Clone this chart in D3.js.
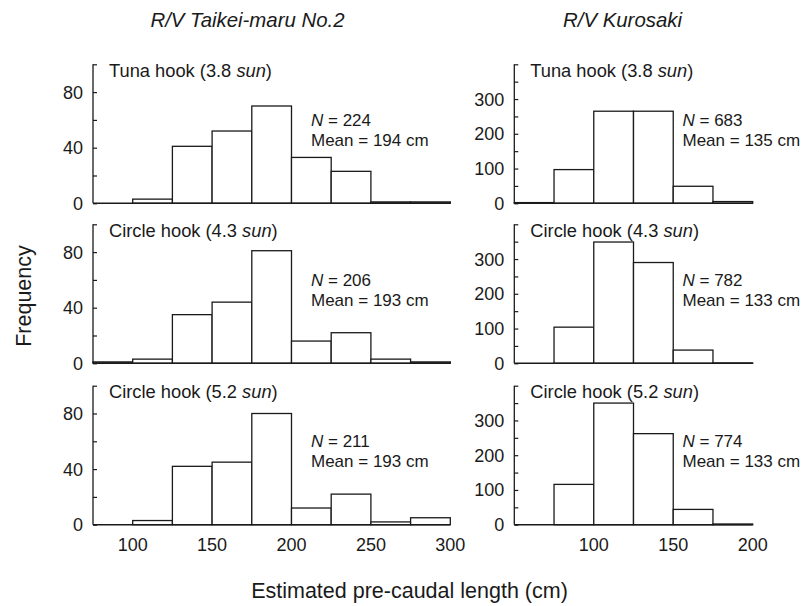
<!DOCTYPE html>
<html>
<head>
<meta charset="utf-8">
<script src="https://cdn.jsdelivr.net/npm/d3@7"></script>
<style>
  body { margin: 0; background: #fff; }
  text { font-family: "Liberation Sans", Arial, sans-serif; fill: #1a1a1a; }
</style>
</head>
<body>
<div id="container"></div>
<script>

// Data
var vessels = ['R/V Taikei-maru No.2', 'R/V Kurosaki'];
var hooks = ['Tuna hook', 'Circle hook', 'Circle hook'];
var hookSizes = ['3.8', '4.3', '5.2'];

// bin starts (cm), 25 cm wide
var binsTaikei = [75, 100, 125, 150, 175, 200, 225, 250, 275];
var binsKurosaki = [50, 75, 100, 125, 150, 175];

var taikeiTuna38 = [0, 3, 41, 52, 70, 33, 23, 1, 1];
var taikeiCircle43 = [1, 3, 35, 44, 81, 16, 22, 3, 1];
var taikeiCircle52 = [0, 3, 42, 45, 80, 12, 22, 2, 5];

var kurosakiTuna38 = [2, 97, 265, 265, 49, 5];
var kurosakiCircle43 = [0, 104, 349, 290, 38, 1];
var kurosakiCircle52 = [0, 116, 350, 262, 44, 2];

var taikeiN = [224, 206, 211];
var taikeiMean = [194, 193, 193];
var kurosakiN = [683, 782, 774];
var kurosakiMean = [135, 133, 133];

var taikeiXTicks = [100, 150, 200, 250, 300];
var kurosakiXTicks = [100, 150, 200];

// Basic parameters
var WIDTH = 802,
    HEIGHT = 606,
    BINW = 25,
    PANEL_H = 139;

var zeroY = [203.3, 363.3, 524.7];

var svg = d3.select('#container')
    .append('svg')
    .attr('width', WIDTH)
    .attr('height', HEIGHT);

var columns = [
    {
        bins: binsTaikei,
        series: [taikeiTuna38, taikeiCircle43, taikeiCircle52],
        n: taikeiN, mean: taikeiMean,
        x: d3.scaleLinear().domain([75, 300]).range([93, 450.3]),
        yMax: 100, minor: 20, major: 40,
        xTicks: taikeiXTicks,
        labelX: 311,
        titleX: 247.5
    },
    {
        bins: binsKurosaki,
        series: [kurosakiTuna38, kurosakiCircle43, kurosakiCircle52],
        n: kurosakiN, mean: kurosakiMean,
        x: d3.scaleLinear().domain([50, 200]).range([514.3, 752.7]),
        yMax: 400, minor: 50, major: 100,
        xTicks: kurosakiXTicks,
        labelX: 682.5,
        titleX: 622.5
    }
];

columns.forEach(function(col, ci) {

    // vessel heading
    svg.append('text')
        .attr('x', col.titleX)
        .attr('y', 27)
        .attr('text-anchor', 'middle')
        .style('font-size', '20.4px')
        .style('font-style', 'italic')
        .text(vessels[ci]);

    col.series.forEach(function(values, pi) {

        var y = d3.scaleLinear()
            .domain([0, col.yMax])
            .range([zeroY[pi], zeroY[pi] - PANEL_H]);

        var g = svg.append('g');

        var bars = col.bins.map(function(b, i) {
            return { x0: b, x1: b + BINW, v: values[i] };
        });

        g.selectAll('.bar')
            .data(bars)
            .enter()
            .append('rect')
            .attr('class', 'bar')
            .attr('x', function(d) { return col.x(d.x0); })
            .attr('width', function(d) { return col.x(d.x1) - col.x(d.x0); })
            .attr('y', function(d) { return y(d.v); })
            .attr('height', function(d) { return y(0) - y(d.v); })
            .attr('fill', '#fff')
            .attr('stroke', '#1a1a1a')
            .attr('stroke-width', 1.3);

        // x baseline
        g.append('line')
            .attr('x1', col.x.range()[0])
            .attr('x2', col.x.range()[1])
            .attr('y1', y(0))
            .attr('y2', y(0))
            .attr('stroke', '#1a1a1a')
            .attr('stroke-width', 1.6);

        // y axis, inward ticks
        var yAxis = d3.axisRight(y)
            .tickValues(d3.range(0, col.yMax + 1, col.minor))
            .tickSize(4)
            .tickFormat('');

        var ya = g.append('g')
            .attr('transform', 'translate(' + col.x.range()[0] + ',0)')
            .call(yAxis);
        ya.select('.domain').remove();
        ya.selectAll('.tick line').attr('stroke', '#1a1a1a').attr('stroke-width', 1.2);
        ya.append('line')
            .attr('y1', y(0))
            .attr('y2', y(col.yMax))
            .attr('stroke', '#1a1a1a')
            .attr('stroke-width', 1.3);

        g.selectAll('.ylab')
            .data(d3.range(0, col.yMax, col.major))
            .enter()
            .append('text')
            .attr('class', 'ylab')
            .attr('x', col.x.range()[0] - 10)
            .attr('y', function(d) { return y(d) + 6.5; })
            .attr('text-anchor', 'end')
            .style('font-size', '18px')
            .text(function(d) { return d; });

        // panel title
        var t = g.append('text')
            .attr('x', col.x.range()[0] + 16)
            .attr('y', zeroY[pi] - 126.5)
            .style('font-size', '18.3px');
        t.append('tspan').text(hooks[pi] + ' (' + hookSizes[pi] + ' ');
        t.append('tspan').style('font-style', 'italic').text('sun');
        t.append('tspan').text(')');

        // N and mean
        var tn = g.append('text')
            .attr('x', col.labelX)
            .attr('y', zeroY[pi] - 77.5)
            .style('font-size', '17px');
        tn.append('tspan').style('font-style', 'italic').text('N');
        tn.append('tspan').text(' = ' + col.n[pi]);

        g.append('text')
            .attr('x', col.labelX)
            .attr('y', zeroY[pi] - 57.5)
            .style('font-size', '17px')
            .text('Mean = ' + col.mean[pi] + ' cm');

        // x tick labels on bottom panel only
        if (pi == 2) {
            g.selectAll('.xlab')
                .data(col.xTicks)
                .enter()
                .append('text')
                .attr('class', 'xlab')
                .attr('x', function(d) { return col.x(d); })
                .attr('y', y(0) + 26)
                .attr('text-anchor', 'middle')
                .style('font-size', '18px')
                .text(function(d) { return d; });
        }
    });
});

svg.append('text')
    .attr('transform', 'translate(31,296) rotate(-90)')
    .attr('text-anchor', 'middle')
    .style('font-size', '21.5px')
    .text('Frequency');

svg.append('text')
    .attr('x', 409.5)
    .attr('y', 598)
    .attr('text-anchor', 'middle')
    .style('font-size', '21.5px')
    .text('Estimated pre-caudal length (cm)');

</script>
</body>
</html>
